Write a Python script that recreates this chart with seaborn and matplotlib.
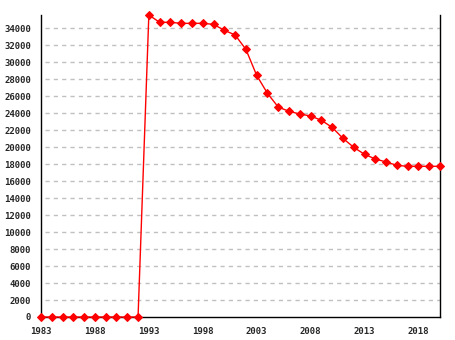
import matplotlib
matplotlib.use("Agg")
import matplotlib.pyplot as plt
import seaborn as sns
import pandas as pd

years = list(range(1983, 2021))
population = [0, 0, 0, 0, 0, 0, 0, 0, 0, 0,
              35530, 34670, 34670, 34550, 34550, 34550, 34430, 33730, 33180, 31490,
              28430, 26310, 24700, 24200, 23880, 23650, 23140, 22310, 21020, 19960,
              19140, 18590, 18240, 17840, 17730, 17730, 17730, 17730]
x_ticks = [1983, 1988, 1993, 1998, 2003, 2008, 2013, 2018]
y_ticks = list(range(0, 34001, 2000))

df = pd.DataFrame({"year": years, "population": population})

sns.set_style("white")
fig = plt.figure(figsize=(4.55, 3.4), dpi=100)
ax = fig.add_axes([41/455, 1-317/340, (440-41)/455, (317-15)/340])

for y in y_ticks[1:]:
    ax.axhline(y, xmin=0.01, color="#c0c0c0", lw=1, ls=(0, (3, 3)), zorder=0)

sns.lineplot(data=df, x="year", y="population", ax=ax, color="red", lw=1,
             marker="D", markersize=4.5, markeredgecolor="red", markerfacecolor="red",
             zorder=3, clip_on=False)

ax.set_xlim(1983, 2020)
ax.set_ylim(0, 35530)
ax.set_xticks(x_ticks)
ax.set_yticks(y_ticks)
ax.set_xticklabels([str(v) for v in x_ticks])
ax.set_yticklabels([str(v) for v in y_ticks])
ax.set_xlabel("")
ax.set_ylabel("")
ax.tick_params(axis="both", direction="inout", length=8, width=1, color="black",
               labelsize=6.5, pad=3)
for lab in ax.get_xticklabels() + ax.get_yticklabels():
    lab.set_fontfamily("DejaVu Sans Mono")
    lab.set_fontweight("bold")

ax.spines["top"].set_visible(False)
for s in ["left", "right", "bottom"]:
    ax.spines[s].set_color("black")
    ax.spines[s].set_linewidth(1)
ax.grid(False)

fig.savefig("out.png", dpi=100)
